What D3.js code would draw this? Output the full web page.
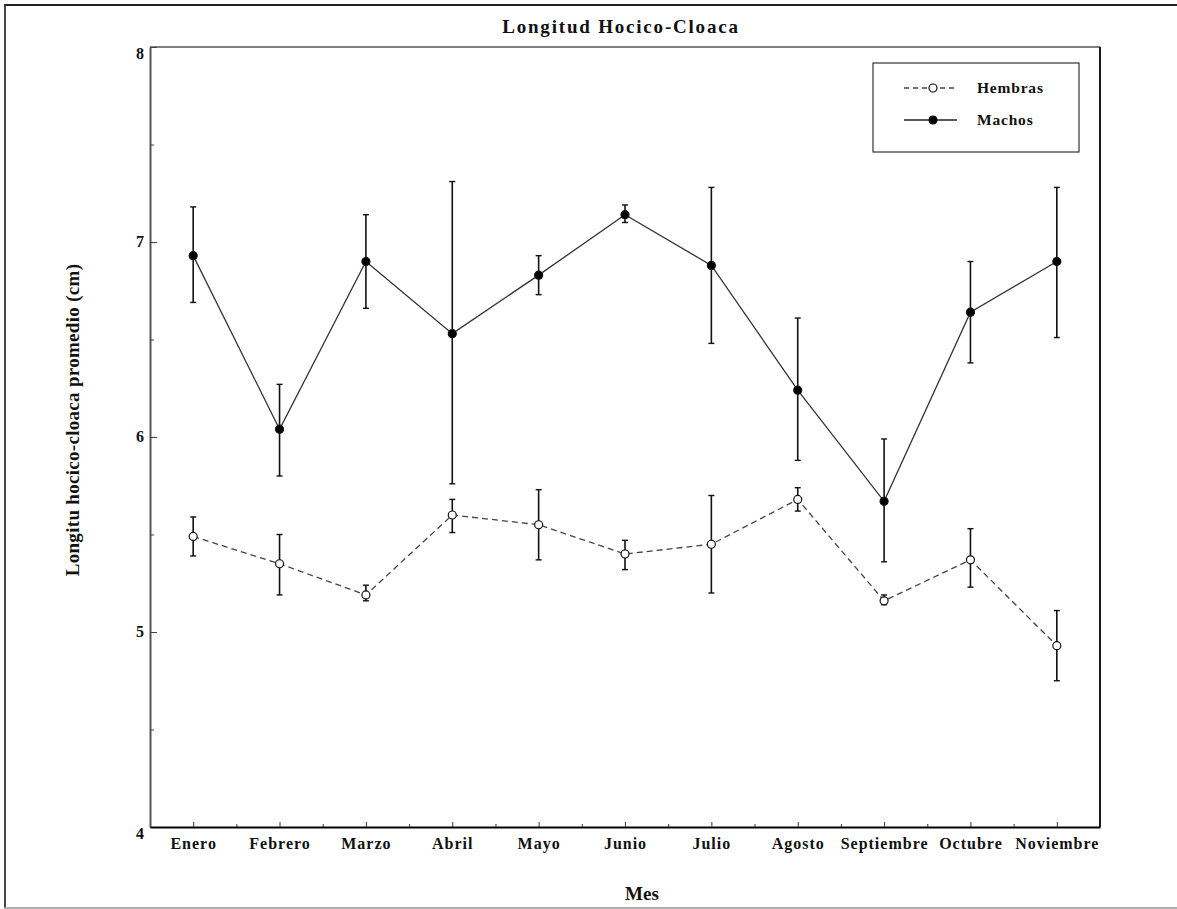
<!DOCTYPE html>
<html>
<head>
<meta charset="utf-8">
<script src="https://cdn.jsdelivr.net/npm/d3@7"></script>
<style>
  html, body { margin: 0; padding: 0; background: #fff; }
  svg { display: block; }
  text { font-family: "Liberation Serif", "DejaVu Serif", serif; font-weight: bold; fill: #111; }
</style>
</head>
<body>
<svg id="chart" width="1177" height="909"></svg>
<script>
// ---- Data ----
const months = ["Enero","Febrero","Marzo","Abril","Mayo","Junio","Julio","Agosto","Septiembre","Octubre","Noviembre"];

const hembrasMean  = [5.49, 5.35, 5.19, 5.60, 5.55, 5.40, 5.45, 5.68, 5.16, 5.37, 4.93];
const hembrasLow   = [5.39, 5.19, 5.16, 5.51, 5.37, 5.32, 5.20, 5.62, 5.14, 5.23, 4.75];
const hembrasHigh  = [5.59, 5.50, 5.24, 5.68, 5.73, 5.47, 5.70, 5.74, 5.19, 5.53, 5.11];

const machosMean   = [6.93, 6.04, 6.90, 6.53, 6.83, 7.14, 6.88, 6.24, 5.67, 6.64, 6.90];
const machosLow    = [6.69, 5.80, 6.66, 5.76, 6.73, 7.10, 6.48, 5.88, 5.36, 6.38, 6.51];
const machosHigh   = [7.18, 6.27, 7.14, 7.31, 6.93, 7.19, 7.28, 6.61, 5.99, 6.90, 7.28];

const yMajorTicks = [4, 5, 6, 7, 8];
const yMinorTicks = [4.5, 5.5, 6.5, 7.5];

const titleText = "Longitud Hocico-Cloaca";
const xLabel = "Mes";
const yLabel = "Longitu hocico-cloaca promedio (cm)";

// ---- Layout ----
const svg = d3.select("#chart");
const pLeft = 150, pRight = 1100, pTop = 47, pBottom = 827;

const x = d3.scaleLinear().domain([0.5, months.length + 0.5]).range([pLeft, pRight]);
const y = d3.scaleLinear().domain([4, 8]).range([pBottom, pTop]);

// outer frame (top, left dark; bottom grey)
svg.append("line").attr("x1", 4).attr("x2", 1177).attr("y1", 5).attr("y2", 5)
  .attr("stroke", "#222").attr("stroke-width", 1.8);
svg.append("line").attr("x1", 5).attr("x2", 5).attr("y1", 4).attr("y2", 908)
  .attr("stroke", "#333").attr("stroke-width", 1.8);
svg.append("line").attr("x1", 4).attr("x2", 1177).attr("y1", 908).attr("y2", 908)
  .attr("stroke", "#999").attr("stroke-width", 1.5);

// plot frame (top & right)
svg.append("line").attr("x1", pLeft).attr("x2", pRight).attr("y1", pTop).attr("y2", pTop)
  .attr("stroke", "#000").attr("stroke-width", 1.2);
svg.append("line").attr("x1", pRight).attr("x2", pRight).attr("y1", pTop).attr("y2", pBottom)
  .attr("stroke", "#000").attr("stroke-width", 1.8);

// y axis
const yAxisG = svg.append("g").attr("transform", `translate(${pLeft},0)`)
  .call(d3.axisLeft(y).tickValues(yMajorTicks).tickFormat(d3.format("d")).tickSizeInner(-7).tickSizeOuter(0).tickPadding(6));
yAxisG.select(".domain").attr("stroke", "#555").attr("stroke-width", 2);
yAxisG.selectAll(".tick line").attr("stroke", "#444").attr("stroke-width", 1);
yAxisG.selectAll(".tick text")
  .style("font-family", "'Liberation Serif', serif").style("font-weight", "bold").style("font-size", "16px").attr("fill", "#111")
  .attr("dy", d => (d === 8 || d === 4) ? "0.72em" : "0.3em");
svg.append("g").attr("transform", `translate(${pLeft},0)`)
  .call(d3.axisLeft(y).tickValues(yMinorTicks).tickFormat("").tickSizeInner(-4).tickSizeOuter(0))
  .call(g => g.select(".domain").remove())
  .selectAll(".tick line").attr("stroke", "#444");

// x axis
const xAxisG = svg.append("g").attr("transform", `translate(0,${pBottom})`)
  .call(d3.axisBottom(x).tickValues(d3.range(1, months.length + 1)).tickFormat(d => months[d - 1]).tickSizeInner(-5).tickSizeOuter(0).tickPadding(11));
xAxisG.select(".domain").attr("stroke", "#000").attr("stroke-width", 2);
xAxisG.selectAll(".tick line").attr("stroke", "#333");
xAxisG.selectAll(".tick text")
  .style("font-family", "'Liberation Serif', serif").style("font-weight", "bold").style("font-size", "16px")
  .style("letter-spacing", "1px").attr("fill", "#111");
svg.append("g").attr("transform", `translate(0,${pBottom})`)
  .call(d3.axisBottom(x).tickValues(d3.range(1.5, months.length + 0.5, 1)).tickFormat("").tickSizeInner(-3).tickSizeOuter(0))
  .call(g => g.select(".domain").remove())
  .selectAll(".tick line").attr("stroke", "#333");

// titles
svg.append("text").attr("x", 621).attr("y", 33).attr("text-anchor", "middle")
  .style("font-size", "19px").style("letter-spacing", "1.8px").text(titleText);
svg.append("text").attr("x", 642).attr("y", 900).attr("text-anchor", "middle")
  .style("font-size", "19px").text(xLabel);
svg.append("text").attr("transform", `translate(79,420) rotate(-90)`)
  .attr("text-anchor", "middle").style("font-size", "19px").style("letter-spacing", "0.3px").text(yLabel);

// series drawing
function drawSeries(mean, low, high, opts) {
  const g = svg.append("g");
  const line = d3.line().x((d, i) => x(i + 1)).y(d => y(d));
  g.append("path").datum(mean).attr("d", line).attr("fill", "none")
    .attr("stroke", opts.lineColor).attr("stroke-width", 1.3)
    .attr("stroke-dasharray", opts.dash || null);
  const eb = g.selectAll(".eb").data(mean).enter().append("g");
  eb.append("line").attr("x1", (d, i) => x(i + 1)).attr("x2", (d, i) => x(i + 1))
    .attr("y1", (d, i) => y(low[i])).attr("y2", (d, i) => y(high[i]))
    .attr("stroke", "#111").attr("stroke-width", 1.6);
  eb.append("line").attr("x1", (d, i) => x(i + 1) - 3).attr("x2", (d, i) => x(i + 1) + 3)
    .attr("y1", (d, i) => y(low[i])).attr("y2", (d, i) => y(low[i]))
    .attr("stroke", "#111").attr("stroke-width", 1.4);
  eb.append("line").attr("x1", (d, i) => x(i + 1) - 3).attr("x2", (d, i) => x(i + 1) + 3)
    .attr("y1", (d, i) => y(high[i])).attr("y2", (d, i) => y(high[i]))
    .attr("stroke", "#111").attr("stroke-width", 1.4);
  g.selectAll(".pt").data(mean).enter().append("circle")
    .attr("cx", (d, i) => x(i + 1)).attr("cy", d => y(d)).attr("r", 4)
    .attr("fill", opts.fill).attr("stroke", "#111").attr("stroke-width", 1.2);
}

drawSeries(hembrasMean, hembrasLow, hembrasHigh, { lineColor: "#444", dash: "6,4", fill: "#fff" });
drawSeries(machosMean, machosLow, machosHigh, { lineColor: "#333", fill: "#000" });

// legend
const lg = svg.append("g");
lg.append("rect").attr("x", 873).attr("y", 63).attr("width", 206).attr("height", 89)
  .attr("fill", "#fff").attr("stroke", "#333").attr("stroke-width", 1.2);
const legendItems = [
  { name: "Hembras", dash: "5,4", fill: "#fff", color: "#444", yy: 88 },
  { name: "Machos", dash: null, fill: "#000", color: "#222", yy: 120 }
];
legendItems.forEach(it => {
  lg.append("line").attr("x1", 904).attr("x2", 957).attr("y1", it.yy).attr("y2", it.yy)
    .attr("stroke", it.color).attr("stroke-width", 1.3).attr("stroke-dasharray", it.dash);
  lg.append("circle").attr("cx", 933).attr("cy", it.yy).attr("r", 4)
    .attr("fill", it.fill).attr("stroke", "#111").attr("stroke-width", 1.2);
  lg.append("text").attr("x", 977).attr("y", it.yy + 5).style("font-size", "15.5px")
    .style("letter-spacing", "0.8px").text(it.name);
});
</script>
</body>
</html>
